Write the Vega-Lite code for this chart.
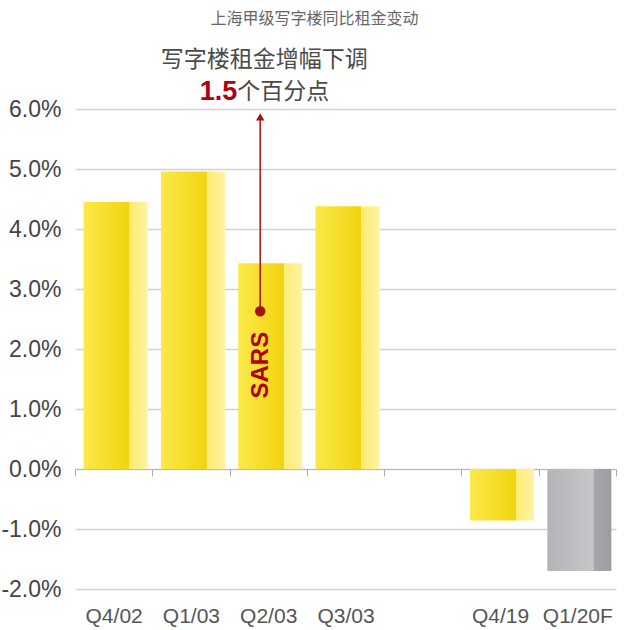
{
  "$schema": "https://vega.github.io/schema/vega-lite/v6.json",
  "autosize": {"type": "none"},
  "width": 541,
  "height": 480,
  "padding": {"left": 75, "top": 109, "right": 9, "bottom": 41},
  "background": "white",
  "title": {"text": "上海甲级写字楼同比租金变动", "fontSize": 16, "font": "Noto Sans CJK SC", "fontWeight": "normal", "color": "#666", "anchor": "middle", "offset": 22, "dx": -31},
  "config": {"view": {"stroke": null}},
  "datasets": {
    "bars": [
      {"q": "Q4/02", "v": 4.45, "kind": "yellow"},
      {"q": "Q1/03", "v": 4.96, "kind": "yellow"},
      {"q": "Q2/03", "v": 3.43, "kind": "yellow"},
      {"q": "Q3/03", "v": 4.38, "kind": "yellow"},
      {"q": "Q4/19", "v": -0.86, "kind": "yellow"},
      {"q": "Q1/20F", "v": -1.7, "kind": "gray"}
    ]
  },
  "encoding": {
    "x": {"field": "q", "type": "nominal", "sort": null,
      "scale": {"domain": ["Q4/02", "Q1/03", "Q2/03", "Q3/03", " ", "Q4/19", "Q1/20F"], "paddingInner": 0, "paddingOuter": 0},
      "axis": {"title": null, "offset": -120, "labelPadding": 129, "tickBand": "extent", "tickColor": "#aaa", "tickSize": 7, "domainColor": "#bbb", "labelFontSize": 21, "labelColor": "#555", "labelAngle": 0, "labelFont": "Liberation Sans", "grid": false}},
    "y": {"type": "quantitative",
      "scale": {"domain": [-2, 6], "nice": false, "zero": false},
      "axis": {"title": null, "values": [-2, -1, 0, 1, 2, 3, 4, 5, 6], "labelExpr": "(datum.value < 0 ? '-' : '') + format(abs(datum.value),'.1f') + '%'", "domain": false, "ticks": false, "labelPadding": 14, "labelFontSize": 23, "labelFont": "Liberation Sans", "labelColor": "#444", "gridColor": "#d2d2d2", "gridWidth": 1.5}}
  },
  "layer": [
    {
      "data": {"name": "bars"},
      "mark": {"type": "bar", "width": 46, "xOffset": -7},
      "encoding": {
        "y": {"field": "v", "type": "quantitative"},
        "y2": {"datum": 0},
        "color": {"condition": {"test": "datum.kind == 'gray'", "value": {"gradient": "linear", "x1": 0, "x2": 1, "y1": 0, "y2": 0, "stops": [{"offset": 0, "color": "#b4b4b8"}, {"offset": 1, "color": "#c6c6c9"}]}},
          "value": {"gradient": "linear", "x1": 0, "x2": 1, "y1": 0, "y2": 0, "stops": [{"offset": 0, "color": "#fbe94a"}, {"offset": 1, "color": "#f1d40e"}]}}
      }
    },
    {
      "data": {"name": "bars"},
      "mark": {"type": "bar", "width": 18, "xOffset": 25},
      "encoding": {
        "y": {"field": "v", "type": "quantitative"},
        "y2": {"datum": 0},
        "color": {"condition": {"test": "datum.kind == 'gray'", "value": {"gradient": "linear", "x1": 0, "x2": 1, "y1": 0, "y2": 0, "stops": [{"offset": 0, "color": "#a8a8ac"}, {"offset": 1, "color": "#9c9ca0"}]}},
          "value": {"gradient": "linear", "x1": 0, "x2": 1, "y1": 0, "y2": 0, "stops": [{"offset": 0, "color": "#fdec70"}, {"offset": 1, "color": "#fff3a4"}]}}
      }
    },
    {
      "data": {"values": [{"q": "Q2/03", "a": 2.63, "b": 5.9}]},
      "mark": {"type": "rule", "color": "#a31515", "strokeWidth": 1.5, "xOffset": -8},
      "encoding": {"y": {"field": "a", "type": "quantitative"}, "y2": {"field": "b"}}
    },
    {
      "data": {"values": [{"q": "Q2/03", "a": 2.63}]},
      "mark": {"type": "point", "filled": true, "opacity": 1, "color": "#a31515", "size": 110, "xOffset": -8},
      "encoding": {"y": {"field": "a", "type": "quantitative"}}
    },
    {
      "data": {"values": [{"q": "Q2/03", "a": 5.87}]},
      "mark": {"type": "point", "shape": "triangle-up", "filled": true, "opacity": 1, "color": "#a31515", "size": 70, "xOffset": -8},
      "encoding": {"y": {"field": "a", "type": "quantitative"}}
    },
    {
      "data": {"values": [{"q": "Q2/03", "a": 1.73, "t": "SARS"}]},
      "mark": {"type": "text", "angle": 270, "font": "Liberation Sans", "fontWeight": "bold", "fontSize": 24, "color": "#b00012", "xOffset": -7, "baseline": "middle", "align": "center"},
      "encoding": {"y": {"field": "a", "type": "quantitative"}, "text": {"field": "t"}}
    },
    {
      "data": {"values": [{"q": "Q2/03", "a": 6.82, "t": "写字楼租金增幅下调"}]},
      "mark": {"type": "text", "font": "Noto Sans CJK SC", "fontSize": 23, "color": "#4a4a4a", "dx": -4, "baseline": "middle", "align": "center"},
      "encoding": {"y": {"field": "a", "type": "quantitative"}, "text": {"field": "t"}}
    },
    {
      "data": {"values": [{"q": "Q2/03", "a": 6.28, "t": "1.5"}]},
      "mark": {"type": "text", "font": "Liberation Sans", "fontWeight": "bold", "fontSize": 27, "color": "#b00012", "dx": -31, "baseline": "middle", "align": "right"},
      "encoding": {"y": {"field": "a", "type": "quantitative"}, "text": {"field": "t"}}
    },
    {
      "data": {"values": [{"q": "Q2/03", "a": 6.28, "t": "个百分点"}]},
      "mark": {"type": "text", "font": "Noto Sans CJK SC", "fontSize": 23, "color": "#4a4a4a", "dx": -31, "baseline": "middle", "align": "left"},
      "encoding": {"y": {"field": "a", "type": "quantitative"}, "text": {"field": "t"}}
    }
  ]
}
